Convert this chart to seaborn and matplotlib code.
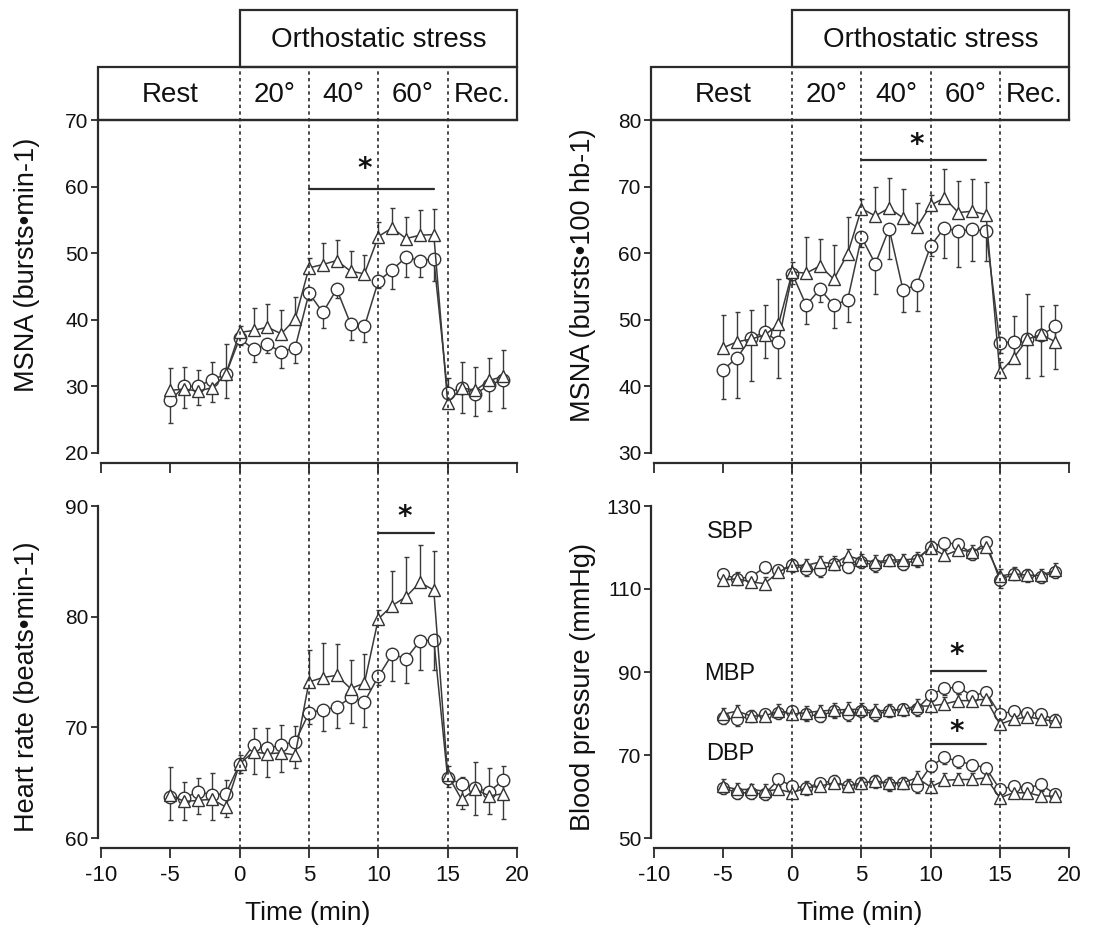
import matplotlib
matplotlib.use("Agg")
import matplotlib.pyplot as plt
import seaborn as sns
import numpy as np
from matplotlib.patches import Rectangle

sns.set_theme(style="white")
plt.rcParams['font.family'] = ['Liberation Sans Narrow', 'Liberation Sans', 'DejaVu Sans']
plt.rcParams['axes.unicode_minus'] = False

# ---------------- data ----------------
time = [-5, -4, -3, -2, -1, 0, 1, 2, 3, 4, 5, 6, 7, 8, 9, 10, 11, 12, 13, 14, 15, 16, 17, 18, 19]

# MSNA bursts/min
msna_min_tri = [29.4, 29.6, 29.3, 29.8, 31.8, 38.1, 38.4, 38.9, 37.9, 40.1, 47.8, 48.3, 48.9, 47.3, 46.9,
                52.5, 53.8, 52.2, 52.7, 52.8, 27.5, 29.8, 29.4, 30.9, 31.5]
msna_min_tri_se = [3.4, 3.3, 3.1, 3.8, 4.5, 1.0, 3.3, 3.4, 3.5, 3.3, 1.5, 3.2, 3.1, 3.1, 2.8,
                   2.2, 3.0, 3.3, 3.8, 3.8, 3.8, 3.8, 3.5, 3.4, 3.9]
msna_min_cir = [27.9, 30.0, 30.0, 31.0, 31.8, 37.2, 35.6, 36.3, 35.2, 35.8, 44.0, 41.1, 44.6, 39.4, 39.0,
                45.8, 47.5, 49.4, 48.9, 49.1, 29.0, 29.8, 28.9, 30.2, 31.0]
msna_min_cir_se = [3.4, 3.3, 2.8, 3.3, 3.5, 1.0, 2.0, 1.3, 2.4, 2.3, 1.0, 2.3, 1.3, 2.4, 2.3,
                   1.0, 2.9, 3.0, 2.5, 3.3, 1.8, 3.8, 3.4, 3.9, 4.3]

# MSNA bursts/100 hb
msna_hb_tri = [45.8, 46.7, 47.1, 47.7, 49.3, 57.2, 57.0, 58.1, 56.1, 59.9, 66.7, 65.6, 66.8, 65.3, 63.9,
               67.2, 68.3, 66.1, 66.3, 65.8, 42.1, 44.3, 47.1, 47.8, 46.7]
msna_hb_tri_se = [4.9, 4.5, 4.3, 4.5, 6.8, 1.5, 5.4, 4.0, 5.1, 5.5, 1.5, 4.4, 4.5, 4.4, 3.7,
                  1.5, 4.3, 4.7, 4.9, 4.9, 1.5, 6.2, 6.8, 4.2, 5.5]
msna_hb_cir = [42.5, 44.3, 47.2, 48.2, 46.7, 56.9, 52.2, 54.6, 52.2, 53.0, 62.4, 58.4, 63.7, 54.5, 55.2,
               61.1, 63.8, 63.3, 63.6, 63.3, 46.5, 46.7, 47.1, 47.7, 49.0]
msna_hb_cir_se = [4.4, 6.0, 6.4, 3.9, 5.4, 1.5, 2.9, 2.0, 3.4, 3.4, 1.5, 4.5, 4.5, 3.4, 3.9,
                  1.5, 4.5, 5.4, 4.7, 4.5, 1.5, 3.2, 5.8, 6.1, 6.4]

# Heart rate
hr_tri = [63.9, 63.3, 63.4, 63.5, 62.8, 66.7, 67.8, 67.6, 67.7, 67.5, 74.1, 74.5, 74.7, 73.5, 74.0,
          79.8, 81.0, 81.8, 83.1, 82.4, 65.7, 63.5, 64.4, 63.8, 64.0]
hr_tri_se = [2.5, 1.8, 2.0, 2.4, 2.4, 0.8, 2.1, 2.3, 2.5, 2.6, 2.9, 3.1, 2.8, 2.6, 2.6,
             0.8, 3.1, 3.6, 3.4, 3.5, 0.8, 2.0, 2.5, 2.5, 2.5]
hr_cir = [63.7, 63.6, 64.2, 63.9, 64.0, 66.7, 68.4, 68.1, 68.4, 68.7, 71.3, 71.6, 71.8, 72.7, 72.3,
          74.6, 76.6, 76.2, 77.8, 77.9, 65.4, 64.9, 64.5, 64.2, 65.2]
hr_cir_se = [2.1, 2.0, 2.0, 2.3, 2.1, 0.8, 2.6, 2.6, 2.4, 2.4, 1.0, 1.9, 1.9, 2.3, 2.3,
             0.8, 2.4, 2.2, 2.6, 2.7, 0.8, 2.3, 2.4, 2.0, 3.5]

# Blood pressure
sbp_tri = [112.1, 112.5, 111.7, 111.3, 114.1, 115.7, 115.7, 116.5, 116.1, 118.0, 117.0, 116.5, 117.0, 117.0, 117.3,
           120.0, 118.1, 119.4, 119.0, 120.2, 113.1, 113.7, 113.3, 113.3, 114.5]
sbp_cir = [113.5, 112.5, 112.9, 115.2, 114.5, 115.7, 114.9, 114.5, 116.1, 115.3, 116.5, 115.7, 117.1, 116.1, 116.9,
           120.2, 121.1, 120.8, 118.5, 121.4, 112.1, 113.7, 113.3, 112.9, 114.1]
mbp_tri = [79.8, 80.6, 79.4, 79.4, 80.6, 79.8, 80.2, 80.6, 80.8, 81.0, 81.0, 80.6, 80.8, 81.0, 81.8,
           81.8, 82.3, 83.1, 83.1, 83.5, 77.4, 78.6, 79.2, 78.6, 78.1]
mbp_cir = [79.0, 78.6, 79.4, 79.8, 80.2, 80.6, 79.8, 79.4, 80.6, 79.8, 80.6, 79.8, 80.6, 81.0, 81.0,
           84.5, 86.1, 86.3, 84.3, 85.1, 79.8, 80.6, 80.2, 80.0, 78.4]
dbp_tri = [62.5, 61.7, 61.7, 61.3, 61.7, 60.9, 62.1, 62.5, 63.3, 62.5, 63.3, 63.7, 63.3, 63.3, 64.5,
           62.3, 63.9, 64.1, 64.1, 64.5, 59.7, 60.9, 60.9, 60.1, 60.1]
dbp_cir = [62.1, 60.9, 60.9, 60.5, 64.1, 62.5, 62.1, 63.3, 63.7, 62.5, 63.3, 63.7, 62.9, 63.3, 62.5,
           67.3, 69.4, 68.5, 67.7, 66.9, 61.7, 62.5, 62.1, 62.9, 60.5]
bp_se_tri = [1.6, 1.5, 1.4, 1.7, 1.8, 1.5, 1.6, 1.4, 1.8, 1.7, 1.5, 1.6, 1.5, 1.4, 1.6,
             1.5, 1.7, 1.6, 1.5, 1.4, 1.6, 1.5, 1.4, 1.5, 1.8]
bp_se_cir = [1.5, 1.6, 1.5, 1.4, 1.6, 1.5, 1.7, 1.5, 1.6, 1.5, 1.4, 1.6, 1.5, 1.5, 1.6,
             1.5, 1.6, 1.7, 1.5, 1.6, 1.8, 1.5, 1.6, 1.5, 1.4]

phase_labels = ["Rest", "20°", "40°", "60°", "Rec."]
phase_centers = [-5, 2.5, 7.5, 12.5, 17.5]
phase_bounds = [0, 5, 10, 15]

# ---------------- layout ----------------
W, H = 1098, 938
fig = plt.figure(figsize=(W / 100, H / 100), dpi=100)

def fx(px):
    return px / W

def fy(py):
    return 1 - py / H

LC = "#2b2b2b"
TC = "#111111"
XMIN, XMAX = -10.2, 20.0
cols = {"left": (98.2, 517.0), "right": (651.2, 1069.0)}
YLAB_SIZE = 19.5
YTICK_SIZE = 15
XTICK_SIZE = 16
HDR_SIZE = 20


def style_axis(ax, ylim, yticks, show_xlabels, top_spine):
    ax.set_xlim(XMIN, XMAX)
    ax.set_ylim(*ylim)
    ax.set_yticks(yticks)
    ax.set_xticks([-10, -5, 0, 5, 10, 15, 20])
    ax.spines["right"].set_visible(False)
    ax.spines["top"].set_visible(top_spine)
    for s in ["left", "bottom", "top"]:
        ax.spines[s].set_color(LC)
        ax.spines[s].set_linewidth(1.6)
    ax.spines["bottom"].set_position(("outward", 7.5))
    ax.spines["bottom"].set_bounds(-10, 20)
    ax.tick_params(axis="y", direction="out", length=5, width=1.3, colors=LC,
                   labelsize=YTICK_SIZE, labelcolor=TC, left=True, pad=2)
    ax.tick_params(axis="x", direction="out", length=7, width=1.3, colors=LC,
                   labelsize=XTICK_SIZE, labelcolor=TC, bottom=True, pad=5)
    if not show_xlabels:
        ax.set_xticklabels([])
    ax.grid(False)
    ax.set_facecolor("none")


def draw_pair(ax, tri, tri_se, cir, cir_se, ms=9):
    zeros = [0] * len(time)
    ax.errorbar(time, tri, yerr=[zeros, tri_se], fmt="none", ecolor="#3a3a3a",
                elinewidth=1.0, capsize=1.8, capthick=1.0, zorder=1.5)
    ax.errorbar(time, cir, yerr=[cir_se, zeros], fmt="none", ecolor="#3a3a3a",
                elinewidth=1.0, capsize=1.8, capthick=1.0, zorder=1.5)
    sns.lineplot(x=time, y=cir, ax=ax, color="#3a3a3a", linewidth=1.1, marker="o",
                 markersize=ms, markerfacecolor="white", markeredgecolor="#333333",
                 markeredgewidth=1.0, errorbar=None, zorder=3)
    sns.lineplot(x=time, y=tri, ax=ax, color="#3a3a3a", linewidth=1.1, marker="^",
                 markersize=ms, markerfacecolor="white", markeredgecolor="#333333",
                 markeredgewidth=1.0, errorbar=None, zorder=3)


def sig(ax, x0, x1, y, ys, xs):
    ax.plot([x0, x1], [y, y], color=LC, lw=1.6, zorder=4)
    ax.text(xs, ys, "*", ha="center", va="center", fontsize=20, fontweight="bold",
            color=TC, family=["DejaVu Sans"])


axes = {}
for name, (x0, x1) in cols.items():
    left, width = fx(x0), fx(x1) - fx(x0)
    top_ax = fig.add_axes([left, fy(453), width, fy(120) - fy(453)])
    bot_ax = fig.add_axes([left, fy(838), width, fy(506) - fy(838)])
    hdr = fig.add_axes([left, fy(120), width, fy(10) - fy(120)])
    ovl = fig.add_axes([left, fy(848), width, fy(67) - fy(848)])
    axes[name] = (top_ax, bot_ax, hdr, ovl)

    # header
    hdr.set_xlim(XMIN, XMAX)
    hdr.set_ylim(0, 1)
    hdr.axis("off")
    yb = (120 - 67) / 110.0
    hdr.add_patch(Rectangle((XMIN, 0), XMAX - XMIN, yb, fill=False, ec=LC, lw=1.6, clip_on=False))
    hdr.add_patch(Rectangle((0, yb), 20, 1 - yb, fill=False, ec=LC, lw=1.6, clip_on=False))
    for lab, c in zip(phase_labels, phase_centers):
        hdr.text(c, yb / 2 - 0.01, lab, ha="center", va="center", fontsize=HDR_SIZE, color=TC)
    hdr.text(10, yb + (1 - yb) / 2 - 0.01, "Orthostatic stress", ha="center", va="center",
             fontsize=HDR_SIZE, color=TC)

    # overlay dotted lines
    ovl.set_xlim(XMIN, XMAX)
    ovl.set_ylim(0, 1)
    ovl.axis("off")
    ovl.patch.set_visible(False)
    for b in phase_bounds:
        ovl.plot([b, b], [0, 1], color=LC, lw=1.2, ls=(0, (2, 2)), zorder=0)

XL_Y = -0.19

# ---- top-left: MSNA bursts/min
ax = axes["left"][0]
style_axis(ax, (20, 70), [20, 30, 40, 50, 60, 70], False, True)
draw_pair(ax, msna_min_tri, msna_min_tri_se, msna_min_cir, msna_min_cir_se)
sig(ax, 5, 14, 59.6, 62.6, 9.0)
ax.set_ylabel("MSNA (bursts•min-1)", fontsize=YLAB_SIZE, color=TC)
ax.yaxis.set_label_coords(-0.138, 0.565)

# ---- bottom-left: heart rate
ax = axes["left"][1]
style_axis(ax, (60, 90), [60, 70, 80, 90], True, False)
draw_pair(ax, hr_tri, hr_tri_se, hr_cir, hr_cir_se)
sig(ax, 10, 14, 87.6, 89.0, 11.9)
ax.set_ylabel("Heart rate (beats•min-1)", fontsize=YLAB_SIZE, color=TC)
ax.yaxis.set_label_coords(-0.138, 0.455)
ax.set_xlabel("Time (min)", fontsize=19, color=TC)
ax.xaxis.set_label_coords(0.5, XL_Y)

# ---- top-right: MSNA bursts/100 hb
ax = axes["right"][0]
style_axis(ax, (30, 80), [30, 40, 50, 60, 70, 80], False, True)
draw_pair(ax, msna_hb_tri, msna_hb_tri_se, msna_hb_cir, msna_hb_cir_se)
sig(ax, 5, 14, 74.0, 76.3, 9.0)
ax.set_ylabel("MSNA (bursts•100 hb-1)", fontsize=YLAB_SIZE, color=TC)
ax.yaxis.set_label_coords(-0.133, 0.535)

# ---- bottom-right: blood pressure
ax = axes["right"][1]
style_axis(ax, (50, 130), [50, 70, 90, 110, 130], True, False)
draw_pair(ax, sbp_tri, bp_se_tri, sbp_cir, bp_se_cir, ms=8.5)
draw_pair(ax, mbp_tri, bp_se_tri, mbp_cir, bp_se_cir, ms=8.5)
draw_pair(ax, dbp_tri, bp_se_tri, dbp_cir, bp_se_cir, ms=8.5)
sig(ax, 10, 14, 90.3, 94.0, 11.9)
sig(ax, 10, 14, 72.6, 75.5, 11.9)
for lab, yy in zip(["SBP", "MBP", "DBP"], [123.7, 89.5, 70.2]):
    ax.text(-4.5, yy, lab, ha="center", va="center", fontsize=17, color=TC)
ax.set_ylabel("Blood pressure (mmHg)", fontsize=YLAB_SIZE, color=TC)
ax.yaxis.set_label_coords(-0.133, 0.455)
ax.set_xlabel("Time (min)", fontsize=19, color=TC)
ax.xaxis.set_label_coords(0.5, XL_Y)

fig.savefig("out.png", dpi=100, facecolor="white")
